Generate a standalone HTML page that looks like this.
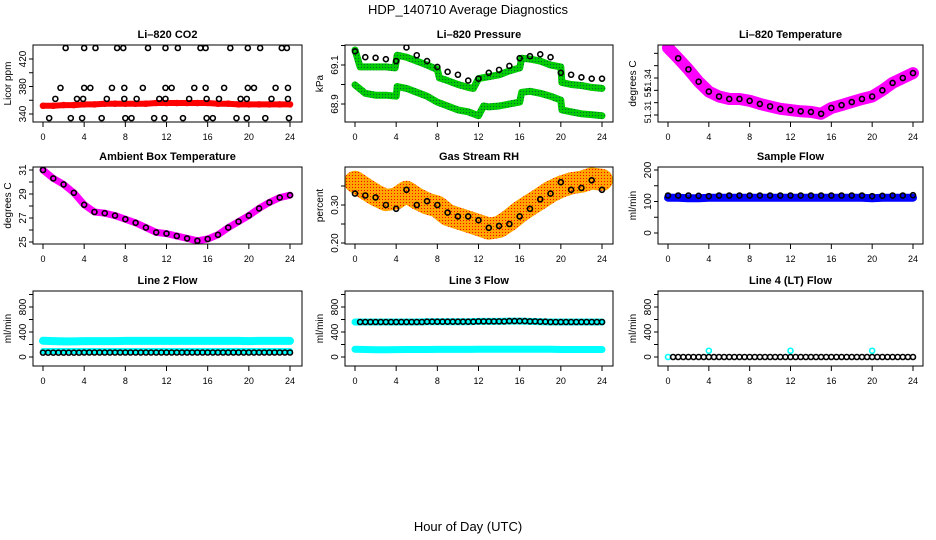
<!DOCTYPE html>
<html><head><meta charset="utf-8"><style>
body{margin:0;background:#fff;}
svg{display:block;font-family:"Liberation Sans",sans-serif;}
</style></head><body>
<svg id="c" width="936" height="540" xmlns="http://www.w3.org/2000/svg">
<defs>
<pattern id="rhpat" width="3" height="3" patternUnits="userSpaceOnUse">
<rect width="3" height="3" fill="#ffa500"/><rect x="1" y="1" width="1" height="1" fill="#f00"/>
</pattern>
<pattern id="grpat" width="3" height="3" patternUnits="userSpaceOnUse">
<rect width="3" height="3" fill="#0c0"/><rect x="1" y="1" width="1" height="1" fill="#063"/>
</pattern>
</defs>
<text x="468" y="14" text-anchor="middle" font-size="13">HDP_140710  Average Diagnostics</text>
<text x="468" y="531" text-anchor="middle" font-size="13">Hour of Day (UTC)</text>
</svg>
<script>
const hours = [0,1,2,3,4,5,6,7,8,9,10,11,12,13,14,15,16,17,18,19,20,21,22,23,24];
const xTicks = [0,4,8,12,16,20,24];
// CO2
const co2Red = [352,352,353,353,354,354,355,355,355,355,355,356,356,356,356,356,356,355,355,354,354,354,354,354,354];
const co2BlackT = [2.2,4.0,5.1,7.2,7.8,10.2,11.9,13.1,15.3,15.8,18.2,19.9,21.1,23.2,23.7,1.7,4.0,4.6,6.7,7.9,9.7,11.9,12.5,14.7,15.8,17.6,19.9,20.5,22.6,23.8,1.2,3.3,3.9,6.2,7.9,9.1,11.3,11.9,14.2,15.9,17.1,19.2,19.8,22.2,23.8,0.6,2.7,3.8,5.7,8.0,8.6,10.8,11.8,13.6,15.9,16.5,18.8,19.8,21.6,23.9];
const co2BlackV = [436,436,436,436,436,436,436,436,436,436,436,436,436,436,436,378,378,378,378,378,378,378,378,378,378,378,378,378,378,378,362,362,362,362,362,362,362,362,362,362,362,362,362,362,362,334,334,334,334,334,334,334,334,334,334,334,334,334,334,334];
// Pressure
const presBlack = [69.17,69.14,69.137,69.13,69.12,69.19,69.15,69.12,69.09,69.065,69.05,69.02,69.03,69.06,69.075,69.095,69.135,69.145,69.155,69.14,69.06,69.05,69.037,69.03,69.03];
const presUpT = [0,0.5,1,2,3,3.9,4.1,5,6,7,8,8.2,9,10,11,11.5,12,13,14,15,16,16.2,17,18,19,20,20.1,21,22,23,24];
const presUpV = [69.177,69.09,69.09,69.09,69.09,69.085,69.15,69.14,69.12,69.1,69.077,69.034,69.02,69.0,68.985,68.98,69.03,69.04,69.05,69.07,69.085,69.135,69.13,69.12,69.1,69.09,69.01,69.0,68.995,68.985,68.98];
const presLoT = [0,1,2,3,4,4.1,5,6,7,8,9,10,11,12,12.5,13,14,15,16,16.2,17,18,19,20,20.1,21,22,23,24];
const presLoV = [68.998,68.955,68.945,68.945,68.94,68.99,68.98,68.96,68.94,68.91,68.89,68.87,68.86,68.84,68.89,68.885,68.89,68.9,68.91,68.96,68.965,68.955,68.94,68.92,68.87,68.86,68.85,68.845,68.84];
// Li-820 temperature
const tempLi = [51.3645,51.356,51.347,51.337,51.329,51.325,51.323,51.323,51.3215,51.319,51.317,51.315,51.314,51.313,51.3125,51.311,51.3157,51.318,51.3205,51.323,51.325,51.33,51.336,51.34,51.344];
// Ambient box
const ambient = [31,30.3,29.8,29.1,28.1,27.5,27.4,27.2,26.9,26.6,26.2,25.8,25.7,25.5,25.3,25.1,25.25,25.6,26.2,26.7,27.2,27.8,28.3,28.7,28.9];
// RH
const rhBand = [0.361,0.343,0.326,0.313,0.317,0.335,0.317,0.304,0.296,0.274,0.265,0.256,0.247,0.238,0.242,0.26,0.282,0.3,0.317,0.335,0.348,0.357,0.361,0.37,0.366];
const rhBlack = [0.33,0.325,0.32,0.30,0.29,0.34,0.30,0.31,0.30,0.28,0.27,0.27,0.26,0.24,0.245,0.25,0.27,0.29,0.315,0.33,0.36,0.34,0.345,0.365,0.34];
// flows
const sampleBlue = [112,112,110,110,112,112,112,112,112,112,112,112,112,112,112,112,112,112,112,112,110,112,112,112,112];
const sampleBlack = [119,119,119,118,117,119,119,119,119,119,119,119,119,119,119,119,119,119,119,119,117,118,119,119,120];
const line2Upper = [260,255,250,250,255,255,255,255,258,258,258,258,258,258,258,258,258,258,258,258,255,258,258,258,258];
const line2Lower = [96,96,96,96,96,96,96,96,96,96,96,96,96,96,96,96,96,96,96,96,96,96,96,96,96];
const line2Black = [70,70,70,70,72,72,72,72,72,72,72,72,72,72,72,72,72,72,72,72,72,72,72,72,72];
const line3Upper = [560,560,560,560,560,560,560,565,565,565,565,565,570,570,570,575,575,570,565,560,560,560,560,560,560];
const line3Lower = [123,120,115,115,118,120,120,120,122,122,122,122,123,123,123,123,123,123,123,123,120,120,120,120,120];
const line4Black = [0,0,0,0,0,0,0,0,0,0,0,0,0,0,0,0,0,0,0,0,0,0,0,0,0];
const line4CyanT = [0,4,12,20];
const line4CyanV = [0,100,100,100];

const svg = document.getElementById('c');
const NS = 'http://www.w3.org/2000/svg';
function mk(tag, attrs, parent){const e=document.createElementNS(NS,tag);for(const k in attrs)e.setAttribute(k,attrs[k]);(parent||svg).appendChild(e);return e;}

const cols = [{bx0:33,bx1:302,t0:43,t24:290},{bx0:345,bx1:613,t0:355,t24:602},{bx0:658,bx1:923,t0:668,t24:913}];
const rows = [{by0:45,by1:122},{by0:167,by1:244},{by0:291,by1:366}];

function panel(ci, ri, name, title, ylab, vA, pA, vB, pB, yTicks, yLabels){
  const c=cols[ci], r=rows[ri];
  const g = mk('g',{});
  
  
  const X = t => c.t0 + (c.t24-c.t0)*t/24;
  const Y = v => pA + (v-vA)*(pB-pA)/(vB-vA);
  const ttl = mk('text',{x:(c.bx0+c.bx1)/2,y:r.by0-7,'text-anchor':'middle','font-size':11,'font-weight':'bold'},g);
  ttl.textContent = title;
  
  
  const cy=(r.by0+r.by1)/2;
  const yl = mk('text',{x:0,y:0,'text-anchor':'middle','font-size':10,transform:`translate(${c.bx0-22},${cy}) rotate(-90)`},g);
  yl.textContent = ylab;
  
  
  yTicks.forEach(v=>{ const y=Y(v); mk('line',{x1:c.bx0-4,x2:c.bx0,y1:y,y2:y,stroke:'#000'},g); });
  yLabels.forEach(l=>{ const y=Y(l.v); const t=mk('text',{x:0,y:0,'text-anchor':'middle','font-size':l.f||10,transform:`translate(${c.bx0-7},${y}) rotate(-90)`},g); t.textContent=l.s;
    
     });
  xTicks.forEach(v=>{ const x=X(v); mk('line',{x1:x,x2:x,y1:r.by1,y2:r.by1+5,stroke:'#000'},g);
    const t=mk('text',{x:x,y:r.by1+18,'text-anchor':'middle','font-size':9},g); t.textContent=v;
    
     });
  const clipId='clip'+ci+ri;
  const cp=mk('clipPath',{id:clipId},g); mk('rect',{x:c.bx0,y:r.by0,width:c.bx1-c.bx0,height:r.by1-r.by0},cp);
  const plot=mk('g',{'clip-path':`url(#${clipId})`},g);
  mk('rect',{x:c.bx0,y:r.by0,width:c.bx1-c.bx0,height:r.by1-r.by0,fill:'none',stroke:'#000'},g);
  return {X,Y,plot};
}
function band(p, ts, vs, color, w, name){
  const pts = ts.map((t,i)=>p.X(t).toFixed(1)+','+p.Y(vs[i]).toFixed(1)).join(' ');
  const l=mk('polyline',{points:pts,fill:'none',stroke:color,'stroke-width':w,'stroke-linejoin':'round','stroke-linecap':'round'},p.plot);
  
  
  return l;
}
function dots(p, ts, vs, color, name, r){
  ts.forEach((t,i)=>{
    const e=mk('circle',{cx:p.X(t),cy:p.Y(vs[i]),r:r||2.5,fill:'none',stroke:color,'stroke-width':1.6},p.plot);
    
    
  });
}
const halfHours = hours.slice(0,24).map(h=>h+0.5);

// Panel 1: CO2
let p = panel(0,0,'co2-panel','Li\u2013820 CO2','Licor ppm',340,114,420,59,[340,360,380,400,420],[{v:340,s:'340'},{v:380,s:'380'},{v:420,s:'420'}]);
band(p,hours,co2Red,'#f00',6,'co2-red-series');
dots(p,hours,co2Red,'#f00','co2-red-point');
dots(p,co2BlackT,co2BlackV,'#000','co2-black-point');

// Panel 2: Pressure
p = panel(1,0,'pressure-panel','Li\u2013820 Pressure','kPa',69.1,65,68.9,104,[68.9,69.0,69.1,69.2],[{v:68.9,s:'68.9'},{v:69.1,s:'69.1'}]);
band(p,presUpT,presUpV,'url(#grpat)',7,'pressure-green-upper');
band(p,presLoT,presLoV,'url(#grpat)',7,'pressure-green-lower');
dots(p,hours,presBlack,'#000','pressure-black-point');

// Panel 3: Li temp
p = panel(2,0,'li-temperature-panel','Li\u2013820 Temperature','degrees C',51.31,115,51.34,78,[51.31,51.32,51.33,51.34,51.35,51.36],[{v:51.3124,s:'51.31',f:9},{v:51.3284,s:'51',f:9},{v:51.3381,s:'51.34',f:9}]);
band(p,hours,tempLi,'#f0f',12,'li-temperature-magenta');
dots(p,hours.slice(1),tempLi.slice(1),'#000','li-temperature-black-point');

// Panel 4: Ambient
p = panel(0,1,'ambient-panel','Ambient Box Temperature','degrees C',31,170,25,242,[25,26,27,28,29,30,31],[{v:25,s:'25'},{v:27,s:'27'},{v:29,s:'29'},{v:31,s:'31'}]);
band(p,hours,ambient,'#f0f',7,'ambient-magenta');
dots(p,hours,ambient,'#000','ambient-black-point');

// Panel 5: RH
p = panel(1,1,'rh-panel','Gas Stream RH','percent',0.30,205,0.20,243,[0.20,0.25,0.30,0.35],[{v:0.20,s:'0.20'},{v:0.30,s:'0.30'}]);
band(p,hours,rhBand,'url(#rhpat)',22,'rh-orange-band');
dots(p,hours,rhBlack,'#000','rh-black-point');

// Panel 6: Sample flow
p = panel(2,1,'sample-flow-panel','Sample Flow','ml/min',0,233,200,170,[0,50,100,150,200],[{v:0,s:'0'},{v:100,s:'100'},{v:200,s:'200'}]);
band(p,hours,sampleBlue,'#00f',8,'sample-flow-blue');
dots(p,hours,sampleBlack,'#000','sample-flow-black-point');

// Panel 7: Line 2
p = panel(0,2,'line2-panel','Line 2 Flow','ml/min',0,357,800,307,[0,200,400,600,800,1000],[{v:0,s:'0'},{v:400,s:'400'},{v:800,s:'800'}]);
band(p,hours,line2Upper,'#0ff',8,'line2-cyan-upper');
band(p,hours,line2Lower,'#0ff',6,'line2-cyan-lower');
dots(p,hours,line2Black,'#000','line2-black-point');
dots(p,halfHours,line2Black.slice(0,24),'#000','line2-black-point');

// Panel 8: Line 3
p = panel(1,2,'line3-panel','Line 3 Flow','ml/min',0,357,800,307,[0,200,400,600,800,1000],[{v:0,s:'0'},{v:400,s:'400'},{v:800,s:'800'}]);
band(p,hours,line3Upper,'#0ff',7,'line3-cyan-upper');
band(p,hours,line3Lower,'#0ff',7,'line3-cyan-lower');
dots(p,hours.slice(1),line3Upper.slice(1),'#000','line3-black-point');
dots(p,halfHours,line3Upper.slice(0,24),'#000','line3-black-point');

// Panel 9: Line 4
p = panel(2,2,'line4-panel','Line 4 (LT) Flow','ml/min',0,357,800,307,[0,200,400,600,800,1000],[{v:0,s:'0'},{v:400,s:'400'},{v:800,s:'800'}]);
dots(p,line4CyanT,line4CyanV,'#0ff','line4-cyan-point');
dots(p,hours.slice(1),line4Black.slice(1),'#000','line4-black-point');
dots(p,halfHours,line4Black.slice(0,24),'#000','line4-black-point');
</script>
</body></html>
